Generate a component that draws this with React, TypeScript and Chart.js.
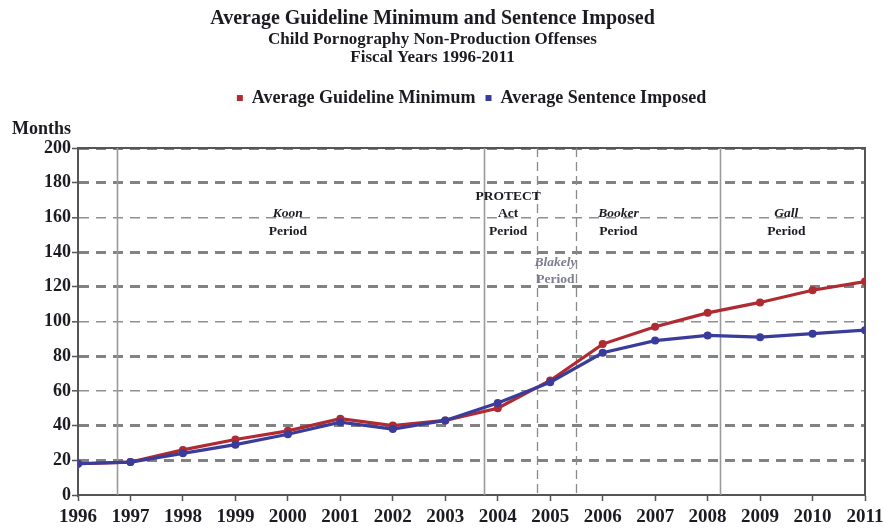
import React, { useEffect, useRef } from "react";
import { Chart, registerables } from "chart.js";

Chart.register(...registerables);

const years = [1996, 1997, 1998, 1999, 2000, 2001, 2002, 2003, 2004, 2005, 2006, 2007, 2008, 2009, 2010, 2011];
const guidelineMinimum = [18, 19, 26, 32, 37, 44, 40, 43, 50, 66, 87, 97, 105, 111, 118, 123];
const sentenceImposed = [18, 19, 24, 29, 35, 42, 38, 43, 53, 65, 82, 89, 92, 91, 93, 95];
const yTickValues = [0, 20, 40, 60, 80, 100, 120, 140, 160, 180, 200];

const titleText = "Average Guideline Minimum and Sentence Imposed";
const subtitleLines = ["Child Pornography Non-Production Offenses", "Fiscal Years 1996-2011"];
const seriesNames = ["Average Guideline Minimum", "Average Sentence Imposed"];
const yAxisLabel = "Months";

// period boundaries (fiscal-year positions)
const boundaryYears = [1996.75, 2003.73, 2004.74, 2005.49, 2008.23];
const boundaryDashed = [false, false, true, true, false];

// period notes
const noteX = [2000, 2000, 2004.2, 2004.2, 2004.2, 2005.1, 2005.1, 2006.3, 2006.3, 2009.5, 2009.5];
const noteY = [162, 152, 172, 162, 152, 134, 124, 162, 152, 162, 152];
const noteText = ["Koon", "Period", "PROTECT", "Act", "Period", "Blakely", "Period", "Booker", "Period", "Gall", "Period"];
const noteKind = ["italic", "normal", "normal", "normal", "normal", "grayItalic", "gray", "italic", "normal", "italic", "normal"];

const thinGridValues = [160, 100, 60];

const RED = "#b02a32";
const BLUE = "#3a3c9c";
const TEXT = "#1b1b22";
const SERIF = "'Liberation Serif', 'Times New Roman', serif";

const periodPlugin = {
  id: "periodPlugin",
  beforeDatasetsDraw(chart: any) {
    const { ctx, chartArea, scales } = chart;
    const xs = scales.x;
    const ys = scales.y;
    ctx.save();
    // right and top frame
    ctx.strokeStyle = "#555555";
    ctx.lineWidth = 2;
    ctx.setLineDash([]);
    ctx.beginPath();
    ctx.moveTo(chartArea.left, chartArea.top);
    ctx.lineTo(chartArea.right, chartArea.top);
    ctx.lineTo(chartArea.right, chartArea.bottom);
    ctx.stroke();
    boundaryYears.forEach((yr, i) => {
      const px = Math.round(xs.getPixelForValue(yr)) + 0.5;
      ctx.beginPath();
      if (boundaryDashed[i]) {
        ctx.setLineDash([9, 5]);
        ctx.strokeStyle = "#8a8a8a";
        ctx.lineWidth = 1.3;
      } else {
        ctx.setLineDash([]);
        ctx.strokeStyle = "#9a9a9a";
        ctx.lineWidth = 1.6;
      }
      ctx.moveTo(px, chartArea.top);
      ctx.lineTo(px, chartArea.bottom);
      ctx.stroke();
    });
    ctx.setLineDash([]);
    ctx.textAlign = "center";
    ctx.textBaseline = "middle";
    noteText.forEach((t, i) => {
      const kind = noteKind[i];
      const italic = kind === "italic" || kind === "grayItalic";
      const gray = kind === "gray" || kind === "grayItalic";
      ctx.font = `${italic ? "italic " : ""}bold 13.5px ${SERIF}`;
      ctx.fillStyle = gray ? "#7d7d92" : TEXT;
      ctx.fillText(t, xs.getPixelForValue(noteX[i]), ys.getPixelForValue(noteY[i]));
    });
    ctx.restore();
  },
  afterDraw(chart: any) {
    const { ctx } = chart;
    ctx.save();
    ctx.font = `bold 18px ${SERIF}`;
    ctx.fillStyle = TEXT;
    ctx.textAlign = "left";
    ctx.textBaseline = "middle";
    ctx.fillText(yAxisLabel, 12, 129);
    ctx.restore();
  },
};

export default function App() {
  const canvasRef = useRef<HTMLCanvasElement | null>(null);

  useEffect(() => {
    document.body.style.margin = "0";
    const canvas = canvasRef.current;
    if (!canvas) return;
    const chart = new Chart(canvas, {
      type: "line",
      data: {
        datasets: [
          {
            label: seriesNames[0],
            data: years.map((y, i) => ({ x: y, y: guidelineMinimum[i] })),
            borderColor: RED,
            backgroundColor: RED,
            pointBackgroundColor: RED,
            pointBorderWidth: 0,
            pointRadius: 4,
            borderWidth: 3.2,
            tension: 0,
            order: 1,
          },
          {
            label: seriesNames[1],
            data: years.map((y, i) => ({ x: y, y: sentenceImposed[i] })),
            borderColor: BLUE,
            backgroundColor: BLUE,
            pointBackgroundColor: BLUE,
            pointBorderWidth: 0,
            pointRadius: 4,
            borderWidth: 3.2,
            tension: 0,
            order: 0,
          },
        ],
      },
      options: {
        animation: false,
        responsive: true,
        maintainAspectRatio: false,
        layout: { padding: { left: 0, right: 18, top: 0, bottom: 0 } },
        plugins: {
          title: {
            display: true,
            text: titleText,
            color: TEXT,
            font: { family: SERIF, size: 20, weight: "bold", lineHeight: 1.2 },
            padding: { top: 7, bottom: 0 },
          },
          subtitle: {
            display: true,
            text: subtitleLines,
            color: TEXT,
            font: { family: SERIF, size: 17, weight: "bold", lineHeight: 1.06 },
            padding: { top: 0, bottom: 12 },
          },
          legend: {
            display: true,
            position: "top",
            fullSize: false,
            reverse: true,
            labels: {
              usePointStyle: true,
              pointStyle: "rect",
              boxWidth: 6,
              boxHeight: 6,
              padding: 10,
              color: TEXT,
              font: { family: SERIF, size: 18, weight: "bold" },
            },
          },
          tooltip: { enabled: false },
        },
        scales: {
          x: {
            type: "linear",
            min: years[0],
            max: years[years.length - 1],
            afterFit(scale: any) {
              scale.height = 34;
              scale.paddingLeft = 0;
              scale.paddingRight = 0;
            },
            afterBuildTicks(scale: any) {
              scale.ticks = years.map((v) => ({ value: v }));
            },
            ticks: {
              autoSkip: false,
              maxRotation: 0,
              padding: 5,
              color: TEXT,
              font: { family: SERIF, size: 19, weight: "bold" },
              callback: (v: any) => String(v),
            },
            grid: {
              drawOnChartArea: false,
              drawTicks: true,
              tickLength: 6,
              tickColor: "#555555",
              tickWidth: 1.5,
            },
            border: { display: true, color: "#555555", width: 2 },
          },
          spacer: {
            type: "linear",
            position: "top",
            display: true,
            afterFit(scale: any) {
              scale.height = 31;
              scale.paddingLeft = 0;
              scale.paddingRight = 0;
            },
            ticks: { display: false },
            grid: { display: false, drawTicks: false },
            border: { display: false },
          },
          y: {
            min: 0,
            max: 200,
            afterFit(scale: any) {
              scale.width = 78;
            },
            afterBuildTicks(scale: any) {
              scale.ticks = yTickValues.map((v) => ({ value: v }));
            },
            ticks: {
              padding: 1,
              color: TEXT,
              font: { family: SERIF, size: 18, weight: "bold" },
            },
            grid: {
              drawTicks: true,
              tickLength: 6,
              tickColor: "#555555",
              tickWidth: 1.5,
              tickBorderDash: [],
              color: (c: any) =>
                c.tick && c.tick.value === 0
                  ? "rgba(0,0,0,0)"
                  : c.tick && thinGridValues.includes(c.tick.value)
                  ? "#909090"
                  : "#828282",
              lineWidth: (c: any) => (c.tick && thinGridValues.includes(c.tick.value) ? 1.6 : 3),
            } as any,
            border: { display: true, color: "#555555", width: 2, dash: [10, 7] },
          },
        },
      } as any,
      plugins: [periodPlugin],
    });
    return () => chart.destroy();
  }, []);

  return (
    <div style={{ width: "883px", height: "529px", position: "relative" }}>
      <canvas ref={canvasRef} />
    </div>
  );
}
